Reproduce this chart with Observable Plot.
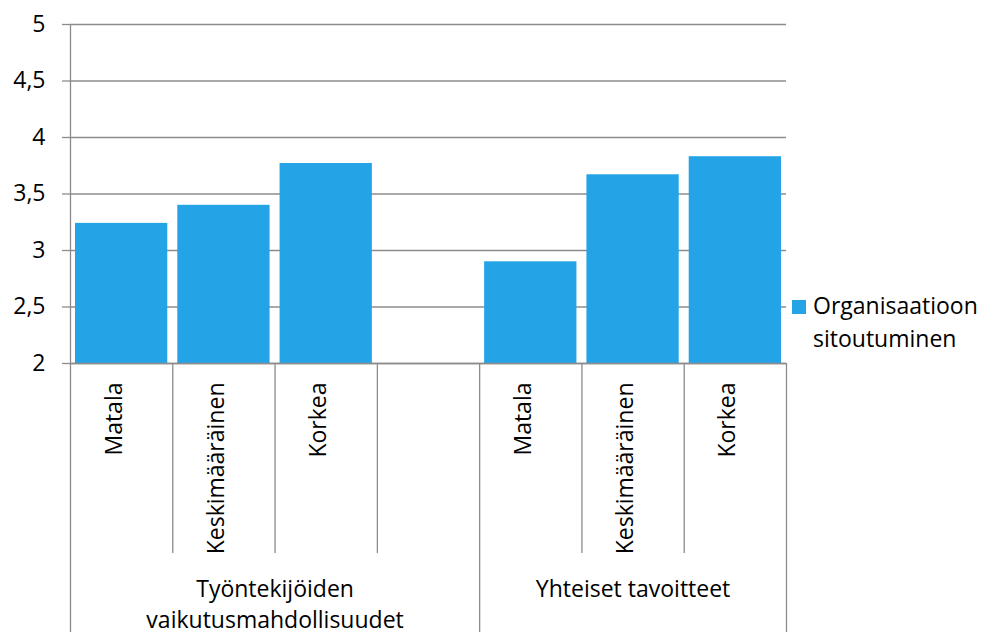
<!DOCTYPE html>
<html>
<head>
<meta charset="utf-8">
<script src="https://cdn.jsdelivr.net/npm/d3@7"></script>
<script src="https://cdn.jsdelivr.net/npm/@observablehq/plot@0.6"></script>
<style>
  body { margin: 0; background: #fff; }
  #wrap { position: relative; width: 983px; height: 632px; font-family: "Open Sans", sans-serif; }
  #legend { position: absolute; left: 792px; top: 289px; font-size: 23px; line-height: 33px; color: #000; white-space: nowrap; }
  #legend .sw { display: inline-block; width: 14px; height: 14px; background: #24A4E6; margin-right: 7px; vertical-align: 0px; }
  #legend .l2 { padding-left: 21px; }
</style>
</head>
<body>
<div id="wrap"></div>
<script>
const groups = ["Työntekijöiden\nvaikutusmahdollisuudet", "Yhteiset tavoitteet"];
const groupSlots = [4, 3];
const categories = ["Matala", "Keskimääräinen", "Korkea"];
const values1 = [3.24, 3.40, 3.77];
const values2 = [2.90, 3.67, 3.83];
const yTicks = [2, 2.5, 3, 3.5, 4, 4.5, 5];
const seriesName = ["Organisaatioon", "sitoutuminen"];

const groupValues = [values1, values2];
const starts = [];
let acc = 0;
for (const n of groupSlots) { starts.push(acc); acc += n; }
const totalSlots = acc;

const rows = [];
groupValues.forEach((vals, g) => {
  vals.forEach((v, i) => rows.push({slot: starts[g] + i, category: categories[i], value: v}));
});
const groupRows = groups.map((name, g) => ({name, center: starts[g] + groupSlots[g] / 2}));
const outerDividers = starts.slice(1).concat([totalSlots]);
const innerDividers = [];
groupSlots.forEach((n, g) => { for (let i = 1; i < n; i++) innerDividers.push(starts[g] + i); });

const gray = "#8c8c8c";
const blue = "#24A4E6";
const fs = 23;

const chart = Plot.plot({
  width: 983,
  height: 632,
  marginLeft: 70,
  marginRight: 197,
  marginTop: 24,
  marginBottom: 269,
  style: {fontFamily: "Open Sans, sans-serif", background: "#fff", color: "#000"},
  x: {type: "linear", domain: [0, totalSlots], axis: null},
  y: {domain: [2, 5], axis: null},
  marks: [
    Plot.gridY(yTicks, {stroke: gray, strokeOpacity: 1, strokeWidth: 1.3}),
    Plot.rectY(rows, {x1: "slot", x2: d => d.slot + 1, y1: 2, y2: "value", fill: blue, insetLeft: 5, insetRight: 5}),
    Plot.axisY(yTicks, {label: null, tickSize: 8, tickPadding: 17, stroke: gray, strokeWidth: 1.3, fontSize: fs, fill: "#000",
      tickFormat: d => String(d).replace(".", ",")}),
    Plot.ruleX([0], {stroke: gray, strokeWidth: 1.3, insetBottom: -269}),
    Plot.ruleX(outerDividers, {stroke: gray, strokeWidth: 1.3, insetTop: 339, insetBottom: -269}),
    Plot.ruleX(innerDividers, {stroke: gray, strokeWidth: 1.3, insetTop: 339, insetBottom: -190}),
    Plot.ruleY([2], {stroke: gray, strokeWidth: 1.3}),
    Plot.text(rows, {x: d => d.slot + 0.5, text: "category", frameAnchor: "bottom", dy: 19, rotate: -90,
      textAnchor: "end", fontSize: fs, fill: "#000"}),
    Plot.text(groupRows, {x: "center", text: "name", frameAnchor: "bottom", dy: 211, lineAnchor: "top",
      lineHeight: 1.35, fontSize: fs, fill: "#000"})
  ]
});
const wrap = document.getElementById("wrap");
wrap.appendChild(chart);
const legend = document.createElement("div");
legend.id = "legend";
legend.innerHTML = `<div><span class="sw"></span>${seriesName[0]}</div><div class="l2">${seriesName[1]}</div>`;
wrap.appendChild(legend);
</script>
</body>
</html>
